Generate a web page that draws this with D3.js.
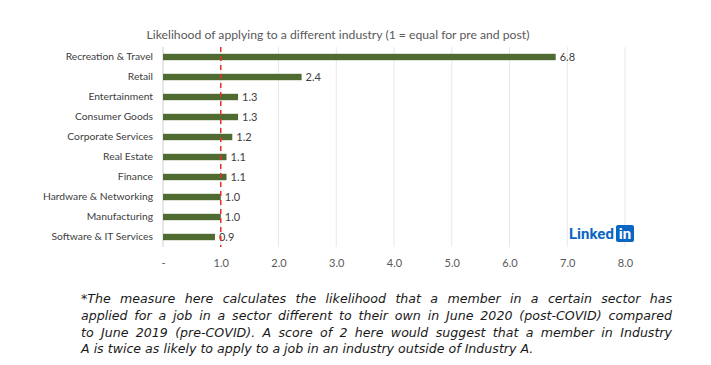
<!DOCTYPE html>
<html>
<head>
<meta charset="utf-8">
<script src="https://cdn.jsdelivr.net/npm/d3@7"></script>
<style>
  body { margin: 0; background: #fff; }
  text { font-family: "Lato", "DejaVu Sans", sans-serif; }
</style>
</head>
<body>
<div id="chart"></div>
<script>
var industries = ["Recreation & Travel", "Retail", "Entertainment", "Consumer Goods",
    "Corporate Services", "Real Estate", "Finance", "Hardware & Networking",
    "Manufacturing", "Software & IT Services"];
var likelihood = [6.8, 2.4, 1.3, 1.3, 1.2, 1.1, 1.1, 1.0, 1.0, 0.9];
var labels = ["6.8", "2.4", "1.3", "1.3", "1.2", "1.1", "1.1", "1.0", "1.0", "0.9"];
var xTicks = [0, 1, 2, 3, 4, 5, 6, 7, 8];
var noteLines = [
    "*The measure here calculates the likelihood that a member in a certain sector has",
    "applied for a job in a sector different to their own in June 2020 (post-COVID) compared",
    "to June 2019 (pre-COVID). A score of 2 here would suggest that a member in Industry",
    "A is twice as likely to apply to a job in an industry outside of Industry A."
];

var data = industries.map(function (d, i) {
    return { industry: d, value: likelihood[i], label: labels[i] };
});

var W = 711, H = 365;
var margin = { top: 47, left: 163, right: 86, bottom: 118 };
var width = W - margin.left - margin.right,
    height = H - margin.top - margin.bottom;

var svg = d3.select("#chart").append("svg")
    .attr("width", W).attr("height", H);

var g = svg.append("g")
    .attr("transform", "translate(" + margin.left + "," + margin.top + ")");

var x = d3.scaleLinear().domain([0, 8]).range([0, width]);
var y = d3.scaleBand().domain(industries).range([0, height]).paddingInner(0.68).paddingOuter(0.34);

// title
svg.append("text")
    .attr("x", 338).attr("y", 39)
    .attr("text-anchor", "middle")
    .attr("font-size", 12.2)
    .attr("fill", "#595959")
    .text("Likelihood of applying to a different industry (1 = equal for pre and post)");

// gridlines
g.selectAll(".grid")
    .data(xTicks)
    .enter().append("line")
    .attr("x1", function (d) { return x(d); })
    .attr("x2", function (d) { return x(d); })
    .attr("y1", 0).attr("y2", height)
    .attr("stroke", function (d) { return d === 0 ? "#d0d0d0" : "#e8e8e8"; })
    .attr("stroke-width", 1);

// x axis
var xAxis = g.append("g")
    .attr("transform", "translate(0," + height + ")")
    .call(d3.axisBottom(x).tickValues(xTicks).tickSize(0).tickPadding(12)
        .tickFormat(function (d) { return d === 0 ? "-" : d3.format(".1f")(d); }));
xAxis.select(".domain").remove();
xAxis.selectAll("text").attr("font-size", 11).attr("fill", "#595959")
    .style("font-family", "Lato, sans-serif");

// y axis
var yAxis = g.append("g")
    .call(d3.axisLeft(y).tickSize(0).tickPadding(10));
yAxis.select(".domain").remove();
yAxis.selectAll("text").attr("font-size", 10.3).attr("fill", "#404040")
    .style("font-family", "Lato, sans-serif");

// bars
g.selectAll(".bar")
    .data(data)
    .enter().append("rect")
    .attr("class", "bar")
    .attr("x", x(0))
    .attr("y", function (d) { return y(d.industry); })
    .attr("width", function (d) { return x(d.value) - x(0); })
    .attr("height", y.bandwidth())
    .attr("fill", "#4f6b31");

// value labels
g.selectAll(".val")
    .data(data)
    .enter().append("text")
    .attr("x", function (d) { return x(d.value) + 4; })
    .attr("y", function (d) { return y(d.industry) + y.bandwidth() / 2; })
    .attr("dy", "0.35em")
    .attr("font-size", 11)
    .attr("fill", "#404040")
    .text(function (d) { return d.label; });

// reference line at 1
g.append("line")
    .attr("x1", x(1)).attr("x2", x(1))
    .attr("y1", 0).attr("y2", height)
    .attr("stroke", "#e8302a")
    .attr("stroke-width", 1.5)
    .attr("stroke-dasharray", "5,4");

// LinkedIn logo
var logo = svg.append("g").attr("transform", "translate(569,239)");
logo.append("text")
    .attr("x", 0).attr("y", 0)
    .attr("font-size", 15).attr("font-weight", "bold")
    .attr("fill", "#0a66c2")
    .style("font-family", "Roboto, sans-serif")
    .text("Linked");
logo.append("rect")
    .attr("x", 47).attr("y", -14).attr("width", 18).attr("height", 17)
    .attr("rx", 2).attr("fill", "#0a66c2");
logo.append("text")
    .attr("x", 56).attr("y", 0)
    .attr("text-anchor", "middle")
    .attr("font-size", 15).attr("font-weight", "bold")
    .attr("fill", "#fff")
    .style("font-family", "Roboto, sans-serif")
    .text("in");

// footnote, justified by spreading the words
var noteX = 81, noteW = 591;
svg.selectAll(".note")
    .data(noteLines)
    .enter().append("text")
    .attr("class", "note")
    .attr("y", function (d, i) { return 303 + i * 16.8; })
    .attr("font-size", 12.6)
    .attr("font-style", "italic")
    .attr("fill", "#1a1a1a")
    .style("font-family", "'DejaVu Sans', sans-serif")
    .each(function (line, i) {
        var t = d3.select(this);
        var words = line.split(" ");
        var spans = words.map(function (w) {
            return t.append("tspan").text(w);
        });
        var widths = spans.map(function (s) { return s.node().getComputedTextLength(); });
        var total = d3.sum(widths);
        var last = i === noteLines.length - 1;
        var gap = last ? 4 : (noteW - total) / (words.length - 1);
        var pos = noteX;
        spans.forEach(function (s, j) {
            s.attr("x", pos);
            pos += widths[j] + gap;
        });
    });
</script>
</body>
</html>
